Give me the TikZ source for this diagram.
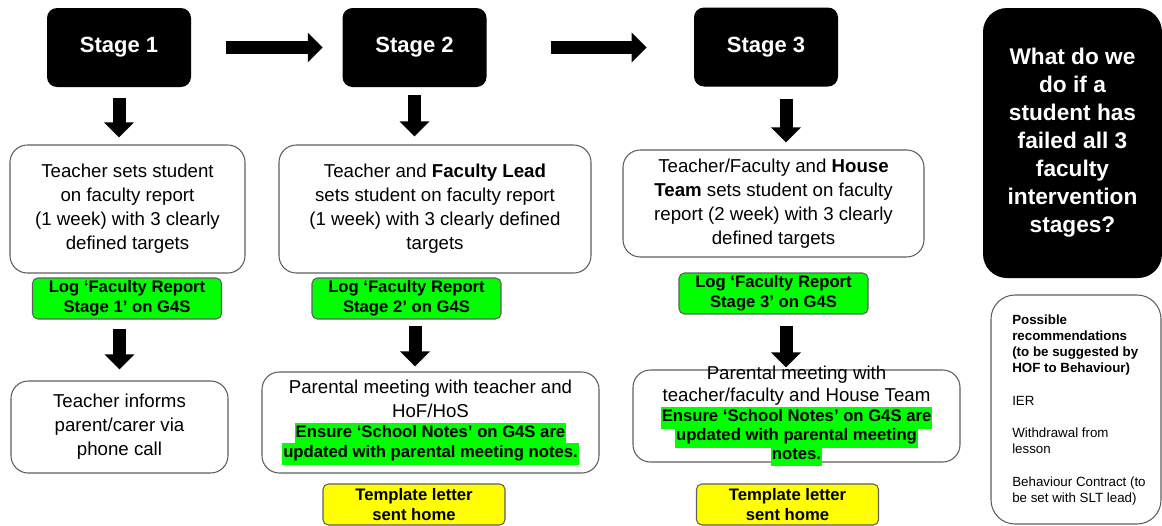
\documentclass[tikz,border=0pt]{standalone}
\usepackage{fontspec}
\setmainfont{Liberation Sans}
\usetikzlibrary{arrows.meta,positioning}
\definecolor{hlgreen}{HTML}{00FF00}
\definecolor{hlyellow}{HTML}{FFFF00}
\definecolor{edgegray}{HTML}{5F5F5F}
\setlength{\fboxsep}{0.6pt}
\newcommand\hlg[1]{{\bfseries\fontsize{12.5}{15.5}\selectfont\colorbox{hlgreen}{\strut #1}}}

\begin{document}
\begin{tikzpicture}[x=0.75pt,y=-0.75pt,
stagenode/.style={rectangle, rounded corners=7.5pt, fill=black, text=white, minimum width=108pt, minimum height=59.25pt, font=\bfseries\fontsize{16.5}{20}\selectfont},
recnode/.style={rectangle, rounded corners=13pt, draw=edgegray, line width=0.8pt, fill=white, align=center, inner sep=1pt, font=\fontsize{14}{18}\selectfont},
lognode/.style={rectangle, rounded corners=4pt, draw=edgegray, line width=0.8pt, fill=hlgreen, minimum width=141.75pt, minimum height=30.75pt, align=center, inner sep=1pt, font=\bfseries\fontsize{12.5}{15}\selectfont},
letternode/.style={lognode, fill=hlyellow, minimum width=136.5pt},
bigarrow/.style={line width=9.75pt, -{Triangle[width=21.75pt,length=11.25pt]}},
]
\useasboundingbox (0,0) rectangle (1162,525);
%Nodes
\node[stagenode](stage1) at (119,47.5){Stage 1};
\node[stagenode](stage2) at (414.5,47.5){Stage 2};
\node[stagenode](stage3) at (766,47){Stage 3};
\node[stagenode, rounded corners=18pt, minimum width=134.25pt, minimum height=202.5pt, align=center, font=\bfseries\fontsize{17}{21}\selectfont](ask) at (1072.5,143)
  {What do we\\do if a\\student has\\failed all 3\\faculty\\intervention\\stages?};

\node[recnode, minimum width=176.25pt, minimum height=96pt](set1) at (127.5,209)
  {Teacher sets student\\on faculty report\\(1 week) with 3 clearly\\defined targets};
\node[recnode, minimum width=234pt, minimum height=96pt](set2) at (435,209)
  {Teacher and \textbf{Faculty Lead}\\sets student on faculty report\\(1 week) with 3 clearly defined\\targets};
\node[recnode, minimum width=225.75pt, minimum height=80.25pt](set3) at (773.5,203.5)
  {Teacher/Faculty and \textbf{House}\\\textbf{Team} sets student on faculty\\report (2 week) with 3 clearly\\defined targets};

\node[lognode](log1) at (127,298.5){Log ‘Faculty Report\\Stage 1’ on G4S};
\node[lognode](log2) at (406.5,298.5){Log ‘Faculty Report\\Stage 2’ on G4S};
\node[lognode](log3) at (773.5,293.5){Log ‘Faculty Report\\Stage 3’ on G4S};

\node[recnode, minimum width=162.75pt, minimum height=69pt](call1) at (119.5,427)
  {Teacher informs\\parent/carer via\\phone call};
\node[recnode, minimum width=252.75pt, minimum height=75.75pt](meet2) at (430.5,422.5)
  {Parental meeting with teacher and\\HoF/HoS\\[-3pt]\hlg{Ensure ‘School Notes’ on G4S are}\\[-3pt]\hlg{updated with parental meeting notes.}};
\node[recnode, minimum width=245.25pt, minimum height=69pt](meet3) at (796.5,416){};
\node[align=center, inner sep=0pt, font=\fontsize{14}{17}\selectfont](meet3text) at (meet3)
  {Parental meeting with\\teacher/faculty and House Team\\[-2pt]\hlg{Ensure ‘School Notes’ on G4S are}\\[-3pt]\hlg{updated with parental meeting}\\[-3pt]\hlg{notes.}};

\node[letternode](letter2) at (414,504.5){Template letter\\sent home};
\node[letternode](letter3) at (787.5,504.5){Template letter\\sent home};

\node[recnode, rounded corners=18pt, minimum width=127.5pt, minimum height=171.75pt](rec) at (1076,409.5){};
\node[anchor=north west, align=left, inner sep=0pt, font=\fontsize{10}{12}\selectfont](rectext) at (1012,315)
  {\textbf{Possible}\\\textbf{recommendations}\\\textbf{(to be suggested by}\\\textbf{HOF to Behaviour)}\\[12.5pt]IER\\[12pt]Withdrawal from\\lesson\\[12.5pt]Behaviour Contract (to\\be set with SLT lead)};

%Arrows
\draw[bigarrow, shorten <=26.25pt, shorten >=14.6pt] (stage1) -- (stage2);
\draw[bigarrow, shorten <=48.4pt, shorten >=35.25pt] (stage2) -- (stage2 -| stage3.west);
\draw[bigarrow, shorten <=8.25pt, shorten >=5.25pt] (stage1) -- (stage1 |- set1.north);
\draw[bigarrow, shorten <=6pt, shorten >=6pt] (stage2) -- (stage2 |- set2.north);
\draw[bigarrow, shorten <=9pt, shorten >=5.25pt] ([xshift=15pt]stage3.south) -- ([xshift=15pt]stage3.south |- set3.north);
\draw[bigarrow, shorten <=6.75pt, shorten >=8.25pt] (call1 |- log1.south) -- (call1.north);
\draw[bigarrow, shorten <=4.5pt, shorten >=3.75pt] ([xshift=6.4pt]log2.south) -- ([xshift=6.4pt]log2.south |- meet2.north);
\draw[bigarrow, shorten <=8.25pt, shorten >=1.5pt] ([xshift=9.4pt]log3.south) -- ([xshift=9.4pt]log3.south |- meet3.north);
\end{tikzpicture}
\end{document}
